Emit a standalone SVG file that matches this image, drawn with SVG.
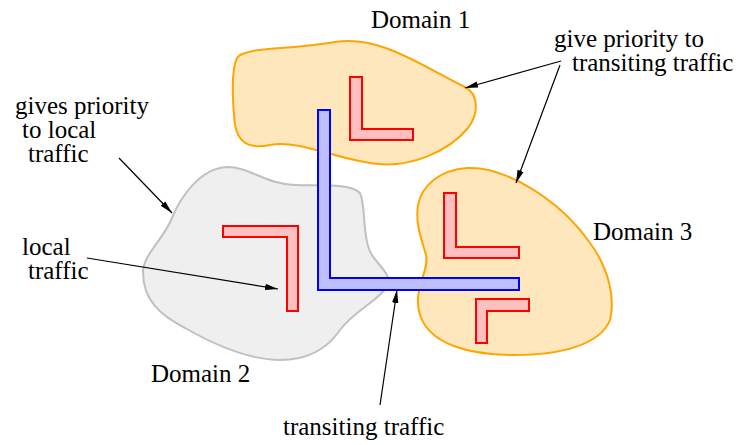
<svg xmlns="http://www.w3.org/2000/svg" width="739" height="445" viewBox="0 0 739 445">
  <style>
    text { font-family: 'Liberation Serif', 'Times New Roman', serif; font-size: 25px; fill: #000; }
    .dom-orange { fill: #ffe7bd; stroke: #ffa500; stroke-width: 2; }
    .dom-grey { fill: #efefef; stroke: #c0c0c0; stroke-width: 2; }
    .local { fill: #ffbfbf; stroke: #ff0000; stroke-width: 2; }
    .transit { fill: #bfbfff; stroke: #0000ff; stroke-width: 2; }
    .conn { fill: none; stroke: #000; stroke-width: 1.2; marker-end: url(#arrow); }
  </style>
  <defs>
    <marker id="arrow" markerUnits="userSpaceOnUse" markerWidth="14" markerHeight="8" refX="13" refY="4" orient="auto">
      <path d="M0,0.8 L13,4 L0,7.2 z" fill="#000"/>
    </marker>
  </defs>

  <rect width="739" height="445" fill="#fff"/>

  <!-- Domain 1 -->
  <g id="domain1">
    <path class="dom-orange" d="M 237,58 C 242,47 290,50 335,42 C 380,35 420,65 465,87 C 480,95 478,115 468,128 C 450,150 410,170 370,163 C 330,157 300,140 270,145 C 245,150 235,140 234,115 C 232,90 232,68 237,58 Z"/>
    <path class="local" d="M 350,77 L 362,77 L 362,129 L 413,129 L 413,140 L 350,140 Z"/>
    <text x="371" y="28">Domain 1</text>
  </g>

  <!-- Domain 2 -->
  <g id="domain2">
    <path class="dom-grey" d="M 227,167 C 250,167 265,184 295,185 C 320,186 350,183 360,193 C 366,205 362,240 372,255 C 378,265 392,275 388,285 C 380,300 355,310 340,330 C 325,352 305,360 280,360 C 250,360 215,345 185,328 C 160,315 143,300 143,272 C 143,255 163,240 172,218 C 180,198 200,168 227,167 Z"/>
    <path class="local" d="M 223,226 L 298,226 L 298,311 L 287,311 L 287,237 L 223,237 Z"/>
    <text x="151" y="382">Domain 2</text>
  </g>

  <!-- Domain 3 -->
  <g id="domain3">
    <path class="dom-orange" d="M 467,168 C 505,166 560,200 590,243 C 610,270 615,300 610,320 C 600,345 560,355 515,355 C 470,355 430,345 420,315 C 412,290 430,270 426,255 C 422,240 415,225 418,205 C 422,185 440,170 467,168 Z"/>
    <path class="local" d="M 444,193 L 456,193 L 456,247 L 519,247 L 519,258 L 444,258 Z"/>
    <path class="local" d="M 476,299 L 529,299 L 529,311 L 487,311 L 487,343 L 476,343 Z"/>
    <text x="593" y="240">Domain 3</text>
  </g>

  <!-- Transit route crossing domains -->
  <g id="transit">
    <path class="transit" d="M 318,110 L 330,110 L 330,278 L 519,278 L 519,290 L 318,290 Z"/>
  </g>

  <!-- Annotation labels -->
  <g id="label-transit-priority">
    <text x="554" y="47">give priority to</text>
    <text x="572" y="71">transiting traffic</text>
  </g>
  <g id="label-local-priority">
    <text x="15" y="114">gives priority</text>
    <text x="22" y="138">to local</text>
    <text x="28" y="162">traffic</text>
  </g>
  <g id="label-local">
    <text x="22" y="255">local</text>
    <text x="28" y="279">traffic</text>
  </g>
  <g id="label-transit">
    <text x="283" y="435">transiting traffic</text>
  </g>

  <!-- Connectors -->
  <g id="connectors">
    <line class="conn" x1="561" y1="61" x2="465" y2="88"/>
    <line class="conn" x1="560" y1="65" x2="516" y2="183"/>
    <line class="conn" x1="119" y1="158" x2="172" y2="213"/>
    <line class="conn" x1="87" y1="258" x2="278" y2="289"/>
    <line class="conn" x1="380" y1="405" x2="397" y2="290"/>
  </g>
</svg>
